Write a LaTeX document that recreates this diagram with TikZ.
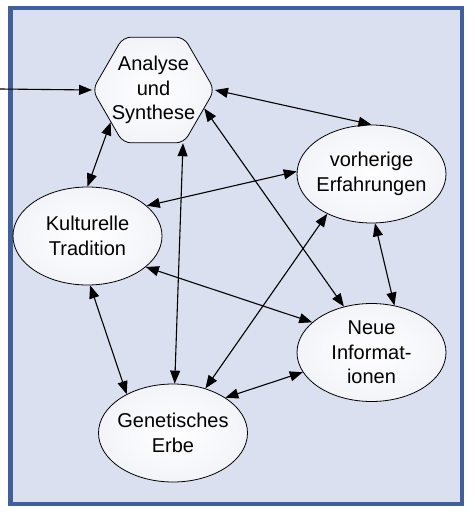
\documentclass[tikz,border=0pt]{standalone}
\usepackage{fontspec}
\setmainfont{Liberation Sans}
\usepackage{tikz}
\usetikzlibrary{shapes.geometric, arrows.meta}
\definecolor{dgBlue}{RGB}{65, 95, 155}
\definecolor{dgLight}{RGB}{218, 224, 240}
\definecolor{dgShade}{RGB}{243, 244, 249}
\tikzset{
    base/.style={
        font=\fontsize{20}{24.5}\selectfont,
        align=center
    },
    concept/.style={
        base,
        ellipse,
        draw=black,
        line width=0.8pt,
        inner color=white,
        outer color=dgShade,
        minimum width=149pt,
        minimum height=98pt,
        inner sep=-4pt
    },
    hub/.style={
        regular polygon,
        regular polygon sides=6,
        minimum size=122pt,
        inner sep=0pt,
        rounded corners=8pt,
        draw=black,
        line width=0.8pt,
        inner color=white,
        outer color=dgShade
    },
    frame/.style={
        draw=dgBlue,
        line width=4.5pt,
        fill=dgLight
    },
    flow/.style={
        >={Triangle[length=13pt, width=10pt]},
        line width=1.1pt,
        color=black
    }
}
\begin{document}
\begin{tikzpicture}[x=1pt, y=-1pt]
  \useasboundingbox (0,0) rectangle (474,514);
  \draw[frame] (10.5,8) rectangle (462,504);

  % hub and the four sources
  \node[hub] (as) at (153.5,90) {};
  \node[base] (asText) at (as.center) {Analyse\\und\\Synthese};
  \node[concept] (vo) at (371.5,174) {vorherige\\Erfahrungen};
  \node[concept] (ku) at (87.5,236) {Kulturelle\\Tradition};
  \node[concept] (ne) at (371.5,352.5) {Neue\\Informat-\\ionen};
  \node[concept] (ge) at (173,433) {Genetisches\\Erbe};
  \coordinate (in) at (0,89);

  \draw[flow, ->] (in) -- (as.west);
  \draw[flow, <->] (as.east) -- (vo.north);
  \draw[flow, <->] (as.217) -- (ku.north);
  \draw[flow, <->] (as.-61) -- (ge.88);
  \draw[flow, <->] (as.-20) -- (ne.121);
  \draw[flow, <->] (ku.27) -- (vo.178);
  \draw[flow, <->] (ku.-28) -- (ne.153);
  \draw[flow, <->] (ku.-87) -- (ge.140);
  \draw[flow, <->] (ge.54) -- (vo.222);
  \draw[flow, <->] (ge.34) -- (ne.196);
  \draw[flow, <->] (vo.-86) -- (ne.64);
\end{tikzpicture}
\end{document}
